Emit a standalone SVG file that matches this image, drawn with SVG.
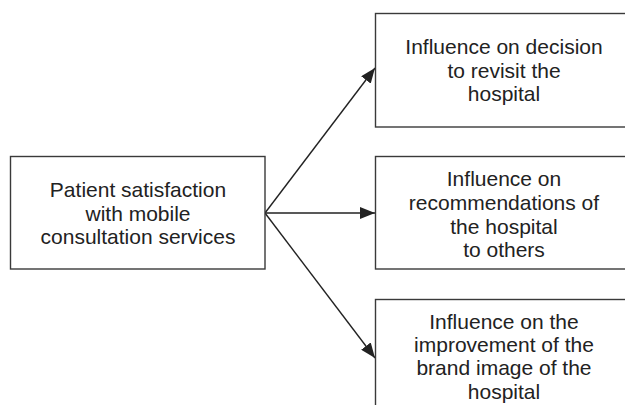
<svg xmlns="http://www.w3.org/2000/svg" width="625" height="405" viewBox="0 0 625 405">
<defs>
<style>
.box{fill:#fff;stroke:#3a3a3a;stroke-width:1.4}
.t{font-family:"Liberation Sans",Arial,sans-serif;font-size:21px;fill:#222;text-anchor:middle}
.c{stroke:#222;stroke-width:1.4;fill:none}
</style>
<marker id="ah" markerWidth="15" markerHeight="12" refX="15" refY="6" orient="auto" markerUnits="userSpaceOnUse">
<path d="M0,0 L15,6 L0,12 Z" fill="#222"/>
</marker>
</defs>
<rect width="625" height="405" fill="#fff"/>
<g id="connectors">
<line class="c" x1="265" y1="213" x2="375" y2="68" marker-end="url(#ah)"/>
<line class="c" x1="265" y1="213" x2="375" y2="213" marker-end="url(#ah)"/>
<line class="c" x1="265" y1="213" x2="375" y2="358" marker-end="url(#ah)"/>
</g>
<g id="source">
<rect class="box" x="10.5" y="156.5" width="254.5" height="112.5"/>
<text class="t" x="138" y="197">Patient satisfaction</text>
<text class="t" x="138" y="221">with mobile</text>
<text class="t" x="138" y="244">consultation services</text>
</g>
<g id="revisit">
<rect class="box" x="375.5" y="13.5" width="260" height="113.5"/>
<text class="t" x="504" y="54">Influence on decision</text>
<text class="t" x="504" y="78">to revisit the</text>
<text class="t" x="504" y="101">hospital</text>
</g>
<g id="recommend">
<rect class="box" x="375.5" y="156.5" width="260" height="112.5"/>
<text class="t" x="504" y="186">Influence on</text>
<text class="t" x="504" y="210">recommendations of</text>
<text class="t" x="504" y="234">the hospital</text>
<text class="t" x="504" y="257">to others</text>
</g>
<g id="brand">
<rect class="box" x="375.5" y="299.5" width="260" height="120"/>
<text class="t" x="504" y="329">Influence on the</text>
<text class="t" x="504" y="352">improvement of the</text>
<text class="t" x="504" y="375">brand image of the</text>
<text class="t" x="504" y="399">hospital</text>
</g>
</svg>
